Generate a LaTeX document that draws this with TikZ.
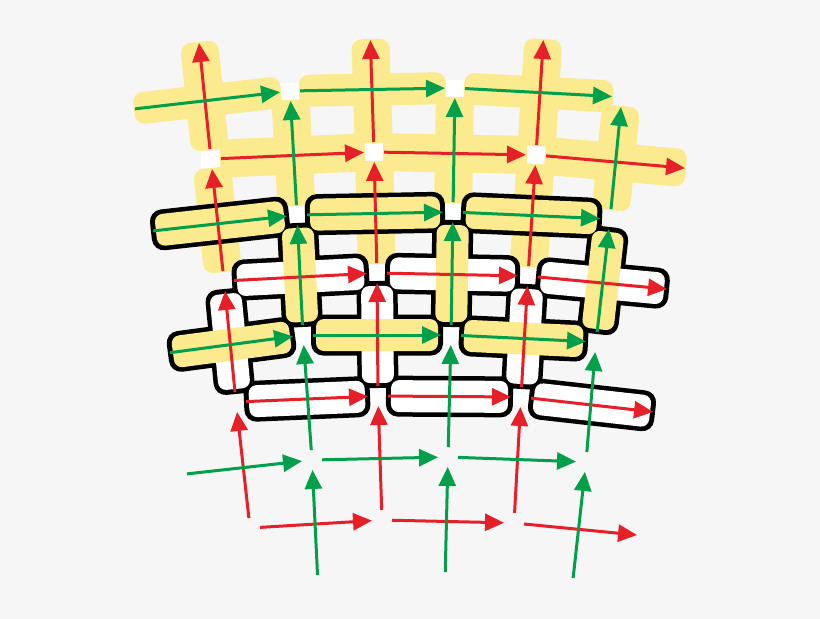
\documentclass[tikz,border=0pt]{standalone}
\usepackage{pgf,tikz}
\usetikzlibrary{calc,arrows.meta,positioning}

\definecolor{rouge}{RGB}{230,32,40}
\definecolor{vert}{RGB}{0,160,75}
\definecolor{jaune}{RGB}{251,234,142}
\definecolor{fond}{RGB}{246,246,246}

\begin{document}
\begin{tikzpicture}[x=1pt,y=-1pt]
  %% DEUX RESEAUX DE FLECHES

  \tikzstyle{every edge}=[draw,line width=3pt,shorten <=10pt,shorten >=10pt,
    -{Triangle[length=19pt,width=17pt]}]
  \tikzstyle{bande}=[inner sep=0pt,outer sep=0pt,midway,sloped]
  \tikzstyle{plein}=[bande,fill=jaune,minimum height=38pt,rounded corners=10pt]
  \tikzstyle{bord}=[bande,fill=black,minimum height=41pt,rounded corners=12pt]
  \tikzstyle{creux}=[bande,minimum height=32pt,rounded corners=8pt]
  \tikzstyle{carre}=[fill=white,minimum width=20pt,minimum height=17pt,inner sep=0pt]

  \fill[fond] (0,0) rectangle (820,619);

  % reseau rouge
  \coordinate (r00) at (250,528);
  \coordinate (r10) at (382,520);
  \coordinate (r20) at (514,523);
  \coordinate (r30) at (647,536);
  \coordinate (r01) at (236,402);
  \coordinate (r11) at (378,396);
  \coordinate (r21) at (521,397);
  \coordinate (r31) at (663,413);
  \coordinate (r02) at (224,281);
  \coordinate (r12) at (377,273);
  \coordinate (r22) at (528,276);
  \coordinate (r32) at (677,290);
  \coordinate (r03) at (211,159);
  \coordinate (r13) at (374,152);
  \coordinate (r23) at (536,155);
  \coordinate (r33) at (695,169);
  \coordinate (r04) at (198,33);
  \coordinate (r14) at (370,30);
  \coordinate (r24) at (544,30);

  % reseau vert
  \coordinate (g10) at (318,585);
  \coordinate (g20) at (445,582);
  \coordinate (g30) at (572,588);
  \coordinate (g01) at (177,475);
  \coordinate (g11) at (312,460);
  \coordinate (g21) at (448,457);
  \coordinate (g31) at (586,462);
  \coordinate (g02) at (160,354);
  \coordinate (g12) at (303,335);
  \coordinate (g22) at (451,335);
  \coordinate (g32) at (596,342);
  \coordinate (g03) at (143,232);
  \coordinate (g13) at (297,215);
  \coordinate (g23) at (453,212);
  \coordinate (g33) at (610,219);
  \coordinate (g04) at (125,110);
  \coordinate (g14) at (290,91);
  \coordinate (g24) at (455,88);
  \coordinate (g34) at (622,97);

  \def\listeplein{r02/r03,r12/r13,r22/r23,r03/r04,r13/r14,r23/r24,r03/r13,
    r13/r23,r23/r33,g13/g14,g23/g24,g33/g34}
  \def\listeblanc{r01/r11,r11/r21,r21/r31,r02/r12,r12/r22,r22/r32,
    r01/r02,r11/r12,r21/r22}
  \def\listejaune{g02/g12,g12/g22,g22/g32,g03/g13,g13/g23,g23/g33,
    g12/g13,g22/g23,g32/g33}

  % trous blancs
  \foreach \a in {r03,r13,r23,r12,r22,r11,r21,g14,g24,g13,g23,g12,g22}
    \node[carre] (t\a) at (\a) {};

  % bandes jaunes sans bord
  \foreach \a/\b in \listeplein
    \path let \p1=($(\b)-(\a)$) in (\a) -- (\b)
      node[plein,minimum width={veclen(\x1,\y1)-18pt}] (p\a\b) {};
  \foreach \a/\b in {g04/g14,g14/g24,g24/g34}
    \path let \p1=($(\b)-(\a)$) in (\a) -- (\b)
      node[plein,minimum height=32pt,minimum width={veclen(\x1,\y1)-18pt}] (p\a\b) {};

  % bords noirs
  \foreach \a/\b in \listeblanc
    \path let \p1=($(\b)-(\a)$) in (\a) -- (\b)
      node[bord,minimum width={veclen(\x1,\y1)-16pt}] (n\a\b) {};
  \foreach \a/\b in \listejaune
    \path let \p1=($(\b)-(\a)$) in (\a) -- (\b)
      node[bord,minimum width={veclen(\x1,\y1)-16pt}] (n\a\b) {};

  % interieurs
  \foreach \a/\b in \listeblanc
    \path let \p1=($(\b)-(\a)$) in (\a) -- (\b)
      node[creux,fill=white,minimum width={veclen(\x1,\y1)-26pt}] (b\a\b) {};
  \foreach \a/\b in \listejaune
    \path let \p1=($(\b)-(\a)$) in (\a) -- (\b)
      node[creux,fill=jaune,minimum width={veclen(\x1,\y1)-26pt}] (j\a\b) {};

  % fleches rouges
  \foreach \i in {0,1,2}
    \foreach \j in {0,...,3} {
      \pgfmathtruncatemacro\k{\i+1}
      \pgfmathtruncatemacro\l{\j+1}
      \path (r\i\j) edge[rouge] (r\k\j)
      (r\i\j) edge[rouge] (r\i\l);
    }

  % fleches vertes
  \foreach \i in {0,1,2}
    \foreach \j in {1,...,4} {
      \pgfmathtruncatemacro\k{\i+1}
      \path (g\i\j) edge[vert] (g\k\j);
    }
  \foreach \i in {1,2,3}
    \foreach \j in {0,...,3} {
      \pgfmathtruncatemacro\l{\j+1}
      \path (g\i\j) edge[vert] (g\i\l);
    }
\end{tikzpicture}
\end{document}
